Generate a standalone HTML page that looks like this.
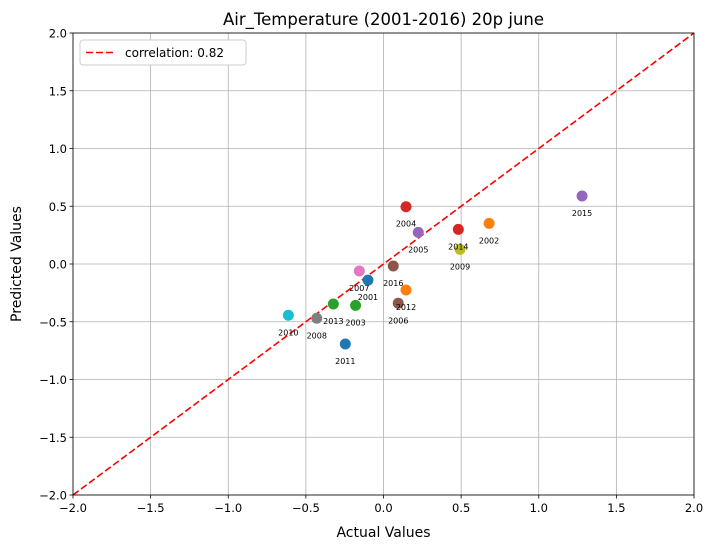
<!DOCTYPE html>
<html><head><meta charset="utf-8"><style>
body{margin:0;background:#fff;font-family:"Liberation Sans","DejaVu Sans",sans-serif;}
svg text{font-family:"DejaVu Sans","Liberation Sans",sans-serif;}
</style></head><body>
<svg id="chart" width="715" height="549" xmlns="http://www.w3.org/2000/svg">
<rect width="715" height="549" fill="#fff"/>
<g id="grid"></g>
<g id="ticks"></g>
<line id="diag" stroke="#ff0000" stroke-width="1.6" stroke-dasharray="7,3"/>
<g id="points"></g>
<rect x="73" y="33" width="621" height="462" fill="none" stroke="#000" stroke-width="0.8"/>
<text x="383.5" y="25" text-anchor="middle" font-size="16.5">Air_Temperature (2001-2016) 20p june</text>
<text x="383.5" y="537" text-anchor="middle" font-size="14">Actual Values</text>
<text transform="translate(21,264) rotate(-90)" text-anchor="middle" font-size="14">Predicted Values</text>
<g>
<rect x="80" y="40" width="166" height="25" rx="3" fill="#fff" stroke="#ccc" stroke-width="1"/>
<line x1="86" y1="52.5" x2="114" y2="52.5" stroke="#ff0000" stroke-width="1.6" stroke-dasharray="7,3"/>
<text x="125" y="57" font-size="12">correlation: 0.82</text>
</g>
</svg>
<script>
const years=["2001","2002","2003","2004","2005","2006","2007","2008","2009","2010","2011","2012","2013","2014","2015","2016"];
const actual=[-0.10,0.68,-0.18,0.145,0.224,0.095,-0.156,-0.43,0.493,-0.613,-0.246,0.145,-0.323,0.482,1.279,0.063];
const predicted=[-0.14,0.352,-0.358,0.496,0.274,-0.34,-0.061,-0.47,0.127,-0.444,-0.693,-0.225,-0.346,0.30,0.589,-0.017];
const tickVals=[-2,-1.5,-1,-0.5,0,0.5,1,1.5,2];
const tickLabels=["−2.0","−1.5","−1.0","−0.5","0.0","0.5","1.0","1.5","2.0"];
const colors=["#1f77b4","#ff7f0e","#2ca02c","#d62728","#9467bd","#8c564b","#e377c2","#7f7f7f","#bcbd22","#17becf"];
const NS="http://www.w3.org/2000/svg";
const X0=73,X1=694,Y0=495,Y1=33;
const sx=v=>X0+(v+2)/4*(X1-X0);
const sy=v=>Y0-(v+2)/4*(Y0-Y1);
function mk(tag,attrs,parent){const e=document.createElementNS(NS,tag);for(const k in attrs)e.setAttribute(k,attrs[k]);parent.appendChild(e);return e;}
const grid=document.getElementById('grid'),ticks=document.getElementById('ticks'),pts=document.getElementById('points');
tickVals.forEach((v,i)=>{
 const gx=mk('line',{x1:sx(v),x2:sx(v),y1:Y1,y2:Y0,stroke:'#b0b0b0','stroke-width':0.8},grid);
 
 
 const gy=mk('line',{x1:X0,x2:X1,y1:sy(v),y2:sy(v),stroke:'#b0b0b0','stroke-width':0.8},grid);
 
 
 mk('line',{x1:sx(v),x2:sx(v),y1:Y0,y2:Y0+3.5,stroke:'#000','stroke-width':0.8},ticks);
 mk('line',{x1:X0-3.5,x2:X0,y1:sy(v),y2:sy(v),stroke:'#000','stroke-width':0.8},ticks);
 const tx=mk('text',{x:sx(v),y:Y0+17,'text-anchor':'middle','font-size':11.5},ticks);
 tx.textContent=tickLabels[i];
 
 
 const ty=mk('text',{x:X0-6,y:sy(v)+4.5,'text-anchor':'end','font-size':11.5},ticks);
 ty.textContent=tickLabels[i];
 
 
});
const d=document.getElementById('diag');
d.setAttribute('x1',sx(-2));d.setAttribute('y1',sy(-2));d.setAttribute('x2',sx(2));d.setAttribute('y2',sy(2));
years.forEach((y,i)=>{
 const c=mk('circle',{cx:sx(actual[i]),cy:sy(predicted[i]),r:5.5,fill:colors[i%10]},pts);
 
 
 const t=mk('text',{x:sx(actual[i]),y:sy(predicted[i])+20,'text-anchor':'middle','font-size':8},pts);
 t.textContent=y;
 
 
});
</script>
</body></html>
